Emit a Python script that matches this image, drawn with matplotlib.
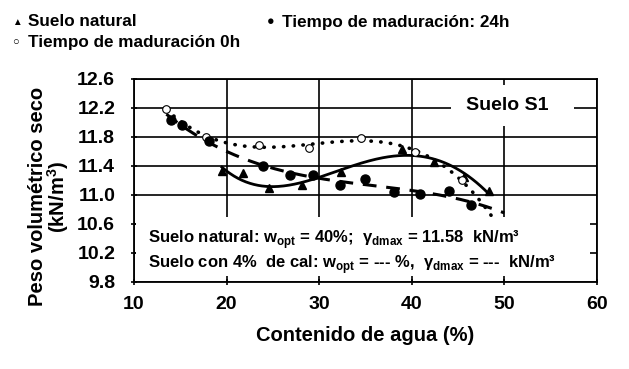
import numpy as np
import matplotlib
matplotlib.use("Agg")
from matplotlib import pyplot as plt
from matplotlib.patches import Rectangle

plt.rcParams['font.family'] = ['Liberation Sans', 'DejaVu Sans']
plt.rcParams['mathtext.fontset'] = 'custom'
plt.rcParams['mathtext.rm'] = 'Liberation Sans:bold'
plt.rcParams['mathtext.bf'] = 'Liberation Sans:bold'

# suelo natural (triangulos)
w_nat = [19.5, 21.75, 24.6, 28.2, 32.4, 38.9, 42.4, 45.6, 48.3]
g_nat = [11.33, 11.30, 11.09, 11.14, 11.32, 11.64, 11.46, 11.25, 11.05]

# tiempo de maduracion 0h (circulos abiertos)
w_0h = [13.5, 17.8, 23.5, 28.9, 34.5, 40.4, 45.4]
g_0h = [12.18, 11.80, 11.69, 11.65, 11.79, 11.59, 11.20]

# tiempo de maduracion 24h (circulos llenos)
w_24h = [14.05, 15.2, 18.1, 23.9, 26.8, 29.3, 32.2, 35.0, 38.1, 40.9, 44.0, 46.4]
g_24h = [12.04, 11.96, 11.75, 11.40, 11.28, 11.28, 11.14, 11.22, 11.04, 11.01, 11.06, 10.86]

x_ticks = [10, 20, 30, 40, 50, 60]
y_ticks = [9.8, 10.2, 10.6, 11.0, 11.4, 11.8, 12.2, 12.6]

fig = plt.figure(figsize=(6.29, 3.69), dpi=100)
ax = fig.add_axes([0.213, 0.236, 0.736, 0.550])

# lineas de tendencia polinomicas (como en la hoja de calculo)
def trend(w, g, x0, x1, deg=3):
    c = np.polyfit(w, g, deg)
    xs = np.linspace(x0, x1, 200)
    return xs, np.polyval(c, xs)

xs, ys = trend(w_nat, g_nat, min(w_nat), max(w_nat), deg=4)
ax.plot(xs, ys, '-', color='black', lw=2.0, zorder=3)
xs, ys = trend(w_0h, g_0h, min(w_0h), 50.5)
ax.plot(xs, ys, color='black', lw=2.6, linestyle=(0, (0.1, 2.6)), dash_capstyle='round', zorder=3)
xs, ys = trend(w_24h, g_24h, 13.5, 50.0)
ax.plot(xs, ys, color='black', lw=2.2, linestyle=(0, (4.5, 3.2)), zorder=3)

ax.plot(w_nat, g_nat, '^', color='black', ms=5.5, ls='none', zorder=4)
ax.plot(w_0h, g_0h, 'o', mfc='white', mec='black', mew=0.8, ms=5.5, ls='none', zorder=4)
ax.plot(w_24h, g_24h, 'o', color='black', ms=6.5, ls='none', zorder=4)

ax.set_xlim(10, 60)
ax.set_ylim(9.8, 12.6)
ax.set_xticks(x_ticks)
ax.set_yticks(y_ticks)
ax.set_xticklabels([str(t) for t in x_ticks], fontsize=14, fontweight='bold')
ax.set_yticklabels(['%.1f' % t for t in y_ticks], fontsize=14, fontweight='bold')
ax.tick_params(direction='inout', length=5, width=1.2)
ax.tick_params(axis='x', pad=8)
ax.tick_params(axis='y', pad=11)
ax.grid(True, color='black', lw=1.2)
for s in ax.spines.values():
    s.set_linewidth(1.3)

ax.set_xlabel('Contenido de agua (%)', fontsize=14.5, fontweight='bold', labelpad=9)
ax.set_ylabel('Peso volumétrico seco\n(kN/m$^{3}$)', fontsize=14.5, fontweight='bold',
              linespacing=0.95)
ax.yaxis.set_label_coords(-0.135, 0.42)

# recuadros blancos
ax.add_patch(Rectangle((44.2, 11.95), 13.3, 0.57, facecolor='white', edgecolor='none', zorder=5))
ax.text(50.3, 12.24, 'Suelo S1', fontsize=14, fontweight='bold', ha='center', va='center', zorder=6)

ax.add_patch(Rectangle((10.2, 9.88), 49.1, 0.81, facecolor='white', edgecolor='none', zorder=5))
ax.text(11.5, 10.38, r'Suelo natural: w$_{\rm opt}$ = 40%;  γ$_{\rm dmax}$ = 11.58  kN/m³',
        fontsize=12, fontweight='bold', ha='left', va='center', zorder=6)
ax.text(11.5, 10.04, r'Suelo con 4%  de cal: w$_{\rm opt}$ = --- %,  γ$_{\rm dmax}$ = ---  kN/m³',
        fontsize=12, fontweight='bold', ha='left', va='center', zorder=6)

# leyenda
fig.text(17 / 629, 1 - 22 / 369, '▲', fontsize=7, ha='center', va='center')
fig.text(28 / 629, 1 - 22 / 369, 'Suelo natural', fontsize=12.3, fontweight='bold', va='center')
fig.text(271 / 629, 1 - 22 / 369, '●', fontsize=9, ha='center', va='center')
fig.text(282 / 629, 1 - 22 / 369, 'Tiempo de maduración: 24h', fontsize=12.3,
         fontweight='bold', va='center')
fig.text(15 / 629, 1 - 42 / 369, '○', fontsize=8, ha='center', va='center')
fig.text(28 / 629, 1 - 42 / 369, 'Tiempo de maduración 0h', fontsize=12.3,
         fontweight='bold', va='center')

fig.savefig('out.png', dpi=100, facecolor='white')
